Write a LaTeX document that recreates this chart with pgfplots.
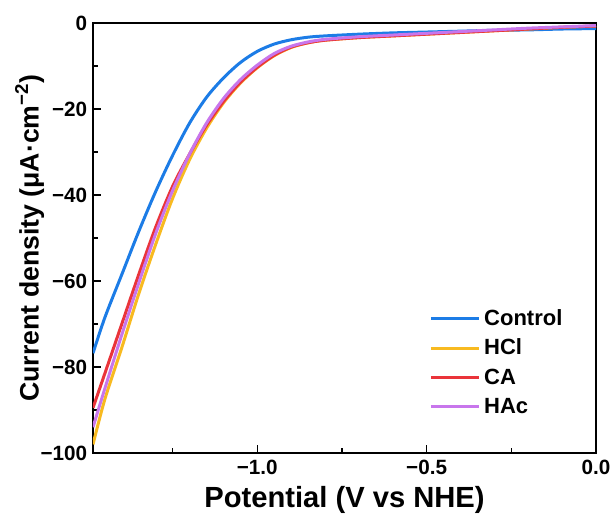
\documentclass[border=0pt]{standalone}
\usepackage{pgfplots}
\pgfplotsset{compat=1.18}
\usetikzlibrary{calc}
\usepackage{fontspec}
\setmainfont{Liberation Sans}

\definecolor{cControl}{RGB}{28,124,230}
\definecolor{cHCl}{RGB}{248,186,32}
\definecolor{cCA}{RGB}{234,52,58}
\definecolor{cHAc}{RGB}{200,118,236}

\begin{document}
\begin{tikzpicture}
\begin{axis}[
  name=ax,
  width=301.8pt, height=258pt, scale only axis,
  xmin=-1.485, xmax=0, ymin=-100, ymax=0,
  axis line style={line width=1pt},
  tick align=inside, tick pos=left,
  major tick length=5pt, minor tick length=3pt,
  every tick/.style={line width=0.9pt, black},
  xtick={-1,-0.5,0}, xticklabels={−1.0,−0.5,0.0},
  minor xtick={-1.25,-0.75,-0.25},
  ytick={-100,-80,-60,-40,-20,0}, yticklabels={−100,−80,−60,−40,−20,0},
  minor ytick={-90,-70,-50,-30,-10},
  ticklabel style={font=\bfseries\fontsize{12.4}{14}\selectfont},
  xticklabel style={yshift=-1pt},
  xlabel={Potential (V vs NHE)},
  ylabel={Current density (μA·cm\textsuperscript{−2})},
  xlabel style={font=\bfseries\fontsize{17.5}{19}\selectfont, yshift=0pt},
  ylabel style={font=\bfseries\fontsize{16}{18}\selectfont, yshift=-9pt},
  legend style={draw=none, fill=none, at={(0.668,0.343)}, anchor=north west,
    font=\bfseries\fontsize{13.2}{15}\selectfont, row sep=2.8pt,
    inner sep=0pt},
  legend cell align=left,
  legend image code/.code={\draw[#1,line width=1.9pt] (0pt,0pt) -- (29pt,0pt);},
  every axis plot/.append style={line width=1.8pt, smooth},
]
\addplot[cControl] coordinates {
(-1.485,-76.8) (-1.45,-68.5) (-1.40,-58.5) (-1.35,-48.5) (-1.30,-39.2)
(-1.25,-30.8) (-1.20,-23.3) (-1.15,-17.3) (-1.10,-12.8) (-1.05,-9.2)
(-1.00,-6.6) (-0.95,-4.9) (-0.90,-3.9) (-0.85,-3.3) (-0.80,-3.0)
(-0.70,-2.6) (-0.60,-2.3) (-0.50,-2.1) (-0.40,-1.9) (-0.30,-1.7)
(-0.20,-1.6) (-0.10,-1.4) (0.00,-1.3)};
\addlegendentry{Control}
\addplot[cHCl] coordinates {
(-1.485,-98) (-1.45,-87.5) (-1.40,-75.5) (-1.35,-63) (-1.30,-51.5)
(-1.25,-40.8) (-1.20,-31.8) (-1.15,-24.5) (-1.10,-18.6) (-1.05,-14.0)
(-1.00,-10.4) (-0.95,-7.6) (-0.90,-5.7) (-0.85,-4.6) (-0.80,-4.0)
(-0.70,-3.4) (-0.60,-3.0) (-0.50,-2.6) (-0.40,-2.2) (-0.30,-1.8)
(-0.20,-1.4) (-0.10,-1.0) (0.00,-0.7)};
\addlegendentry{HCl}
\addplot[cCA] coordinates {
(-1.485,-89.5) (-1.45,-81.5) (-1.40,-70) (-1.35,-58.5) (-1.30,-47.5)
(-1.25,-38.0) (-1.20,-30.5) (-1.15,-23.8) (-1.10,-18.3) (-1.05,-13.8)
(-1.00,-10.3) (-0.95,-7.5) (-0.90,-5.6) (-0.85,-4.6) (-0.80,-4.0)
(-0.70,-3.4) (-0.60,-3.0) (-0.50,-2.6) (-0.40,-2.2) (-0.30,-1.8)
(-0.20,-1.4) (-0.10,-1.0) (0.00,-0.7)};
\addlegendentry{CA}
\addplot[cHAc] coordinates {
(-1.485,-94) (-1.45,-85) (-1.40,-72.5) (-1.35,-60.5) (-1.30,-49)
(-1.25,-39) (-1.20,-30.5) (-1.15,-23.3) (-1.10,-17.6) (-1.05,-13.2)
(-1.00,-9.8) (-0.95,-7.1) (-0.90,-5.4) (-0.85,-4.4) (-0.80,-3.8)
(-0.70,-3.2) (-0.60,-2.8) (-0.50,-2.4) (-0.40,-2.0) (-0.30,-1.6)
(-0.20,-1.2) (-0.10,-0.9) (0.00,-0.6)};
\addlegendentry{HAc}
\end{axis}
% fix the page to the figure's margins around the plot box
\pgfresetboundingbox
\path[use as bounding box] ($(ax.south west)+(-55.8pt,-39pt)$) rectangle ($(ax.north east)+(11.4pt,13.8pt)$);
\end{tikzpicture}
\end{document}
